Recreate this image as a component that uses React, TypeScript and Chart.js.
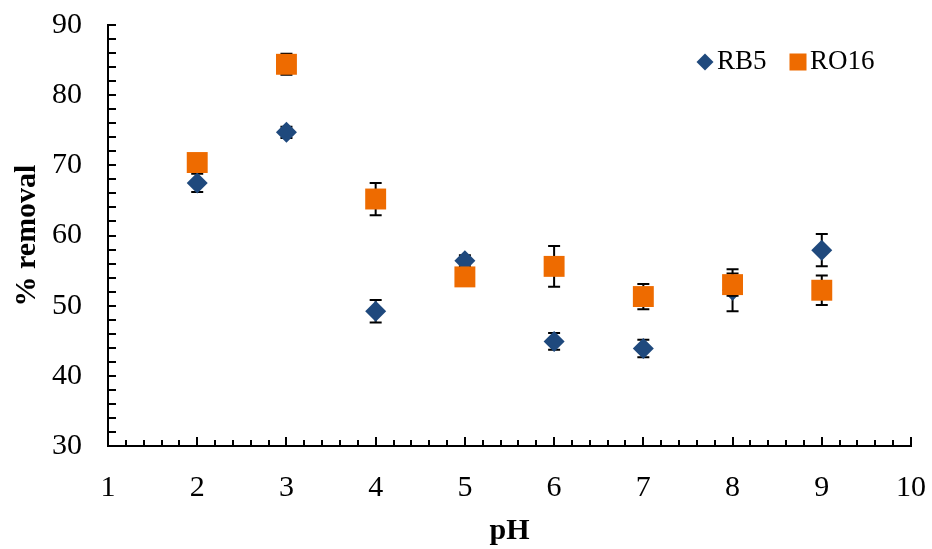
import React, { useEffect, useRef } from "react";
import { Chart, registerables } from "chart.js";

Chart.register(...registerables);

const pH = [2, 3, 4, 5, 6, 7, 8, 9];
const rb5 = [67.5, 74.7, 49.2, 56.4, 44.9, 43.9, 52.2, 57.9];
const rb5Err = [1.3, 0.8, 1.6, 0.8, 1.2, 1.25, 3.0, 2.3];
const ro16 = [70.4, 84.4, 65.2, 54.1, 55.6, 51.3, 53.0, 52.2];
const ro16Err = [1.0, 1.5, 2.3, 0.8, 2.9, 1.8, 1.6, 2.1];
const seriesNames = ["RB5", "RO16"];
const BLUE = "#1F497D";
const ORANGE = "#EE6B00";
const SERIF = "'Liberation Serif', 'Times New Roman', serif";

const errors: number[][] = [rb5Err, ro16Err];

const errorBarPlugin = {
  id: "errorBars",
  beforeDatasetDraw(chart: any, args: any) {
    const idx = args.index;
    const errs = errors[idx];
    if (!errs) return;
    const ys = chart.scales.y;
    const ctx = chart.ctx;
    ctx.save();
    ctx.strokeStyle = "#000";
    ctx.lineWidth = 2;
    args.meta.data.forEach((pt: any, i: number) => {
      const v = chart.data.datasets[idx].data[i].y;
      const top = ys.getPixelForValue(v + errs[i]);
      const bot = ys.getPixelForValue(v - errs[i]);
      const x = pt.x;
      ctx.beginPath();
      ctx.moveTo(x, top);
      ctx.lineTo(x, bot);
      ctx.moveTo(x - 6, top);
      ctx.lineTo(x + 6, top);
      ctx.moveTo(x - 6, bot);
      ctx.lineTo(x + 6, bot);
      ctx.stroke();
    });
    ctx.restore();
  },
};

const axisTicksPlugin = {
  id: "inTicks",
  afterDraw(chart: any) {
    const { ctx, chartArea } = chart;
    const xs = chart.scales.x;
    const ys = chart.scales.y;
    ctx.save();
    ctx.strokeStyle = "#000";
    ctx.lineWidth = 2;
    ctx.beginPath();
    for (let k = 0; k <= 45; k++) {
      const v = 1 + k * 0.2;
      const px = Math.round(xs.getPixelForValue(v));
      const len = k % 5 === 0 ? 9 : 6;
      ctx.moveTo(px, chartArea.bottom);
      ctx.lineTo(px, chartArea.bottom - len);
    }
    for (let v = 30; v <= 90; v += 2) {
      const py = Math.round(ys.getPixelForValue(v));
      ctx.moveTo(chartArea.left, py);
      ctx.lineTo(chartArea.left + 8, py);
    }
    ctx.stroke();

    // legend
    const ly = chartArea.top + 37;
    const dx = chartArea.right - 206;
    ctx.fillStyle = BLUE;
    ctx.beginPath();
    ctx.moveTo(dx, ly - 8.5);
    ctx.lineTo(dx + 8.5, ly);
    ctx.lineTo(dx, ly + 8.5);
    ctx.lineTo(dx - 8.5, ly);
    ctx.closePath();
    ctx.fill();
    const sx = chartArea.right - 113;
    ctx.fillStyle = ORANGE;
    ctx.fillRect(sx - 8.5, ly - 8.5, 17, 17);
    ctx.fillStyle = "#000";
    ctx.font = `27px ${SERIF}`;
    ctx.textBaseline = "middle";
    ctx.textAlign = "left";
    ctx.fillText(seriesNames[0], dx + 12, ly);
    ctx.fillText(seriesNames[1], sx + 12, ly);
    ctx.restore();
  },
};

const clearPad = (s: any) => {
  s.paddingTop = 0;
  s.paddingBottom = 0;
  s.paddingLeft = 0;
  s.paddingRight = 0;
};

export default function App() {
  const ref = useRef<HTMLCanvasElement>(null);
  useEffect(() => {
    document.body.style.margin = "0";
    const chart = new Chart(ref.current as HTMLCanvasElement, {
      type: "scatter",
      data: {
        datasets: [
          {
            label: seriesNames[0],
            data: pH.map((x, i) => ({ x, y: rb5[i] })),
            pointStyle: "rectRot",
            pointRadius: 10.5,
            pointBackgroundColor: BLUE,
            pointBorderColor: BLUE,
            pointBorderWidth: 0,
            order: 2,
          },
          {
            label: seriesNames[1],
            data: pH.map((x, i) => ({ x, y: ro16[i] })),
            pointStyle: "rect",
            pointRadius: 14.8,
            pointBackgroundColor: ORANGE,
            pointBorderColor: ORANGE,
            pointBorderWidth: 0,
            order: 1,
          },
        ],
      },
      options: {
        responsive: false,
        animation: false,
        devicePixelRatio: 1,
        layout: { autoPadding: false, padding: { left: 0, top: 25, right: 21, bottom: 0 } },
        plugins: { legend: { display: false }, tooltip: { enabled: false } },
        scales: {
          x: {
            type: "linear",
            min: 1,
            max: 10,
            afterFit: (s: any) => {
              s.height = 103;
              clearPad(s);
            },
            ticks: {
              stepSize: 1,
              padding: 24,
              color: "#000",
              font: { family: SERIF, size: 30 },
            },
            grid: { display: true, drawOnChartArea: false, drawTicks: false },
            border: { display: true, color: "#000", width: 2 },
            title: {
              display: true,
              text: "pH",
              color: "#000",
              font: { family: SERIF, size: 30, weight: "bold" },
              padding: { top: 0, bottom: 0 },
            },
          },
          y: {
            min: 30,
            max: 90,
            afterFit: (s: any) => {
              s.width = 108;
              clearPad(s);
            },
            ticks: {
              stepSize: 10,
              padding: 26,
              color: "#000",
              font: { family: SERIF, size: 30 },
            },
            grid: { display: true, drawOnChartArea: false, drawTicks: false },
            border: { display: true, color: "#000", width: 2 },
            title: {
              display: true,
              text: "% removal",
              color: "#000",
              font: { family: SERIF, size: 30, weight: "bold" },
              padding: { top: 9, bottom: 0 },
            },
          },
        },
      },
      plugins: [errorBarPlugin, axisTicksPlugin],
    } as any);
    return () => chart.destroy();
  }, []);
  return <canvas ref={ref} width={932} height={549} style={{ display: "block" }} />;
}
